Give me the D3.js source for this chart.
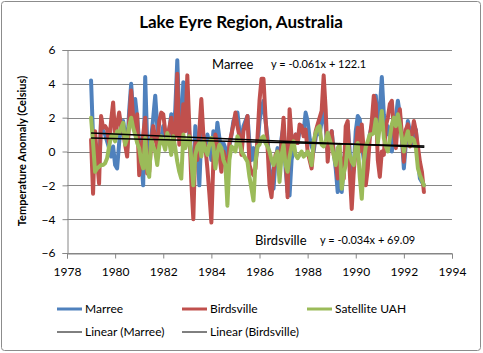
<!DOCTYPE html>
<html>
<head>
<meta charset="utf-8">
<script src="https://cdn.jsdelivr.net/npm/d3@7"></script>
<style>
	html, body { margin: 0; padding: 0; background: #fff; }
	svg { display: block; font-family: Lato, "Open Sans", sans-serif; }
</style>
</head>
<body>
<svg id="chart" width="483" height="353"></svg>
<script>
// monthly anomalies, Jan 1979 .. Nov 1992
const startYear = 1979;

const marree = [
	4.2, 0.8, 0.5, -0.3, -1.0, 1.8, 1.2, 1.0, 0.6, 0.2, -0.3, 0.3,
	-0.8, -1.0, 0.5, 1.6, 1.8, 1.0, 0.2, 2.4, 4.0, 2.2, 3.1, 2.0,
	0.6, -0.5, -2.0, 4.4, 0.5, -0.3, 0.8, 2.0, 3.3, 1.5, 0.4, 0.8,
	1.5, 1.0, 0.5, 1.2, 2.2, 0.8, 2.5, 5.4, 2.0, 1.0, 4.1, 1.5,
	2.8, 1.0, -0.6, -1.5, 1.5, 0.3, -2.0, 1.0, 0.8, 0.4, 1.0, 0.5,
	-0.5, 1.2, 0.2, 1.7, 0.8, 0.0, 0.5, 0.2, -0.8, 0.3, 1.0, 1.8,
	2.1, 2.3, 1.2, 0.3, 1.5, 1.8, 2.1, 0.5, -0.5, 0.2, -0.6, 0.3,
	1.8, 2.5, 3.0, 1.8, 0.8, -1.0, -1.5, -2.2, -0.5, 0.2, -0.8, 0.8,
	1.5, -1.0, -2.4, -2.6, -0.5, 0.2, 1.0, 0.5, 1.2, 1.5, 1.2, 2.3,
	1.8, 0.8, 0.3, 0.0, 0.8, 1.5, 1.0, 1.8, 2.5, 1.5, 0.0, 0.5,
	1.2, 0.0, -1.0, -2.4, -1.5, -2.4, -0.8, 0.5, 1.6, 0.0, -2.0, -1.0,
	1.2, 2.1, 1.9, 0.5, -0.5, -0.8, 0.0, 1.0, 1.5, 2.4, 3.3, 1.5,
	2.5, 4.4, 2.2, 1.0, 1.5, 0.8, 0.0, 1.0, 2.0, 3.0, 2.2, 0.8,
	-1.0, 0.5, 1.8, 1.2, 0.4, 1.0, 1.3, -0.5, -1.6, -1.8, -2.0
];

const birdsville = [
	0.7, -2.5, 1.2, -0.5, -1.9, 2.1, 1.4, 1.5, 1.3, 0.5, 1.8, 2.9,
	0.9, 1.6, 2.3, 1.5, 1.2, 0.4, -0.3, 1.8, 3.6, 2.0, 1.1, 2.2,
	-1.4, 0.0, 1.0, 2.0, -1.3, -1.2, 0.5, 1.5, 0.8, 0.2, 1.8, 2.3,
	2.2, 1.2, 0.6, 1.4, 2.0, 0.6, 1.0, 4.6, 0.4, 0.8, 2.8, 1.2,
	4.5, 1.5, -1.8, -4.0, 0.5, -0.5, 1.2, 3.1, 1.0, 0.3, -1.0, -2.5,
	-4.2, -0.5, 1.0, 0.3, -0.2, -1.2, 0.0, -0.5, -1.5, 0.5, 1.0, 1.6,
	2.3, 1.5, 0.9, -0.2, 1.2, 1.6, 2.1, -0.8, -1.2, -1.4, -1.0, 0.8,
	3.0, 4.3, 4.3, 2.0, 0.3, -2.0, -2.7, -1.2, -0.2, 0.0, -1.4, 0.5,
	2.0, -0.2, -2.7, 2.5, 0.8, 0.2, 1.0, 0.5, 1.6, 1.5, 0.9, 1.3,
	0.0, -0.5, -1.0, 0.3, 1.2, 1.6, 2.0, 2.4, 4.5, 2.5, -0.6, 0.8,
	1.2, -0.2, -0.5, -1.6, -0.2, -0.6, -1.6, 1.5, 1.8, -1.2, -3.4, -1.2,
	0.2, 1.4, 0.0, 1.6, 0.0, -2.0, -1.0, 0.8, 1.8, 3.3, 2.8, -0.5,
	-1.5, 0.0, -0.2, 1.5, 2.0, 2.8, 3.0, 1.2, 0.2, 1.8, 2.5, 1.0,
	-0.6, 1.3, 1.6, 0.3, 1.0, 1.8, 1.2, 0.3, -0.6, -1.2, -2.4
];

const satellite = [
	2.0, 0.5, -1.2, -1.0, -0.9, -0.8, -0.8, -0.7, -0.4, 0.3, 0.9, 1.0,
	0.6, 1.2, 1.1, 1.4, 1.7, 0.4, 0.8, 1.5, 2.0, 1.4, 1.0, 0.5,
	0.2, -0.6, -1.0, 0.8, -1.0, -1.5, 0.7, 0.3, 0.0, -0.8, 0.3, 0.9,
	0.5, 0.1, 1.1, 0.6, -0.2, 0.9, 0.2, -0.6, -1.2, -1.6, 1.0, 0.2,
	0.6, 0.9, -0.5, -2.0, -0.2, 0.3, 0.5, -0.3, 0.6, 0.1, -0.2, 0.4,
	0.8, 0.3, -1.0, -0.1, 0.4, 0.2, -0.5, -0.8, -3.2, -0.5, 0.3, 0.2,
	0.0, 0.9, 0.6, 0.0, -0.2, -0.4, -0.6, -1.5, -2.2, -2.9, -0.6, 0.3,
	0.4, 0.8, 0.9, 0.5, 0.3, 0.0, -0.5, -0.8, -0.3, 0.0, -1.8, -0.2,
	0.4, -0.8, -1.2, -0.3, 0.3, 0.6, -0.2, -0.4, -0.2, 0.0, -0.3, -0.2,
	0.0, -0.3, -0.8, 0.6, 1.1, 1.4, 1.5, 0.4, 0.3, 0.6, 1.1, 0.7,
	0.3, -0.2, -0.8, 0.2, 0.4, -2.2, -1.3, -0.8, 0.4, -0.2, -0.6, -0.8,
	0.3, 0.5, -1.5, -2.8, -0.6, 0.3, 0.6, 1.0, 1.0, 1.1, 1.9, 0.5,
	1.5, 2.4, 0.8, 0.3, 0.0, 0.8, 1.6, 2.0, 1.5, 2.2, 1.6, 0.8,
	0.0, 0.8, 1.2, 0.5, 0.8, 0.7, 0.2, -1.0, -1.4, -1.7, -2.0
];

// trend lines as drawn: [year, value] at both ends
const marreeTrend = [[1979, 1.1], [1992.85, 0.25]];
const birdsvilleTrend = [[1979, 0.8], [1992.85, 0.33]];

const yTicks = [-6, -4, -2, 0, 2, 4, 6];
const xTicks = [1978, 1980, 1982, 1984, 1986, 1988, 1990, 1992, 1994];

const series = [
	{ name: "Marree", values: marree, color: "#4F81BD" },
	{ name: "Birdsville", values: birdsville, color: "#C0504D" },
	{ name: "Satellite UAH", values: satellite, color: "#9BBB59" }
];
const trends = [
	{ name: "Linear (Marree)", values: marreeTrend },
	{ name: "Linear (Birdsville)", values: birdsvilleTrend }
];

const svg = d3.select("#chart");

svg.append("rect")
	.attr("x", 1.5).attr("y", 1.5)
	.attr("width", 479).attr("height", 349)
	.attr("rx", 3)
	.attr("fill", "#fff")
	.attr("stroke", "#8c8c8c");

const x = d3.scaleLinear().domain([1978, 1994]).range([67, 452]);
const y = d3.scaleLinear().domain([-6, 6]).range([253, 50]);

// grid
svg.append("g")
	.selectAll("line")
	.data(yTicks)
	.join("line")
	.attr("x1", x(1978)).attr("x2", x(1994))
	.attr("y1", d => Math.round(y(d)) + 0.5).attr("y2", d => Math.round(y(d)) + 0.5)
	.attr("stroke", "#868686");

const yAxisG = svg.append("g")
	.attr("transform", `translate(${x(1978) + 0.5},0)`)
	.call(d3.axisLeft(y).tickValues(yTicks).tickSize(5).tickPadding(7));

const xAxisG = svg.append("g")
	.attr("transform", `translate(0,${Math.round(y(-6)) + 0.5})`)
	.call(d3.axisBottom(x).tickValues(xTicks).tickFormat(d3.format("d")).tickSize(5).tickPadding(9));

[yAxisG, xAxisG].forEach(g => {
	g.select(".domain").attr("stroke", "#868686");
	g.selectAll(".tick line").attr("stroke", "#868686");
	g.selectAll("text").attr("font-size", 12).attr("fill", "#000")
		.attr("font-family", "Lato, sans-serif");
});

// series
const line = d3.line()
	.x((d, i) => x(startYear + i / 12))
	.y(d => y(d));

svg.append("g")
	.selectAll("path")
	.data(series)
	.join("path")
	.attr("d", d => line(d.values))
	.attr("fill", "none")
	.attr("stroke", d => d.color)
	.attr("stroke-width", 4)
	.attr("stroke-linejoin", "round")
	.attr("stroke-linecap", "round");

const trendLine = d3.line().x(d => x(d[0])).y(d => y(d[1]));
svg.append("g")
	.selectAll("path")
	.data(trends)
	.join("path")
	.attr("d", d => trendLine(d.values))
	.attr("fill", "none")
	.attr("stroke", "#000")
	.attr("stroke-width", 1.5);

// title
svg.append("text")
	.attr("x", 241).attr("y", 28)
	.attr("text-anchor", "middle")
	.attr("font-size", 17).attr("font-weight", "bold")
	.text("Lake Eyre Region, Australia");

svg.append("text")
	.attr("transform", "translate(26,151) rotate(-90)")
	.attr("text-anchor", "middle")
	.attr("font-size", 11).attr("font-weight", "bold")
	.text("Temperature Anomaly (Celsius)");

// trend labels
const notes = [
	{ text: "Marree", px: 212, py: 69, size: 13 },
	{ text: "y = -0.061x + 122.1", px: 271, py: 68, size: 11 },
	{ text: "Birdsville", px: 255, py: 245, size: 13 },
	{ text: "y = -0.034x + 69.09", px: 320, py: 244, size: 11 }
];
svg.append("g")
	.selectAll("text")
	.data(notes)
	.join("text")
	.attr("x", d => d.px).attr("y", d => d.py)
	.attr("font-size", d => d.size)
	.text(d => d.text);

// legend
const legendItems = [
	{ name: series[0].name, color: series[0].color, w: 3, lx: 57, ly: 309 },
	{ name: series[1].name, color: series[1].color, w: 3, lx: 182, ly: 309 },
	{ name: series[2].name, color: series[2].color, w: 3, lx: 307, ly: 309 },
	{ name: trends[0].name, color: "#000", w: 1, lx: 57, ly: 332 },
	{ name: trends[1].name, color: "#000", w: 1, lx: 182, ly: 332 }
];
const lg = svg.append("g")
	.selectAll("g")
	.data(legendItems)
	.join("g")
	.attr("transform", d => `translate(${d.lx},${d.ly})`);
lg.append("line")
	.attr("x1", 0).attr("x2", 25)
	.attr("stroke", d => d.color)
	.attr("stroke-width", d => d.w);
lg.append("text")
	.attr("x", 28).attr("dy", "0.35em")
	.attr("font-size", 12)
	.text(d => d.name);
</script>
</body>
</html>
